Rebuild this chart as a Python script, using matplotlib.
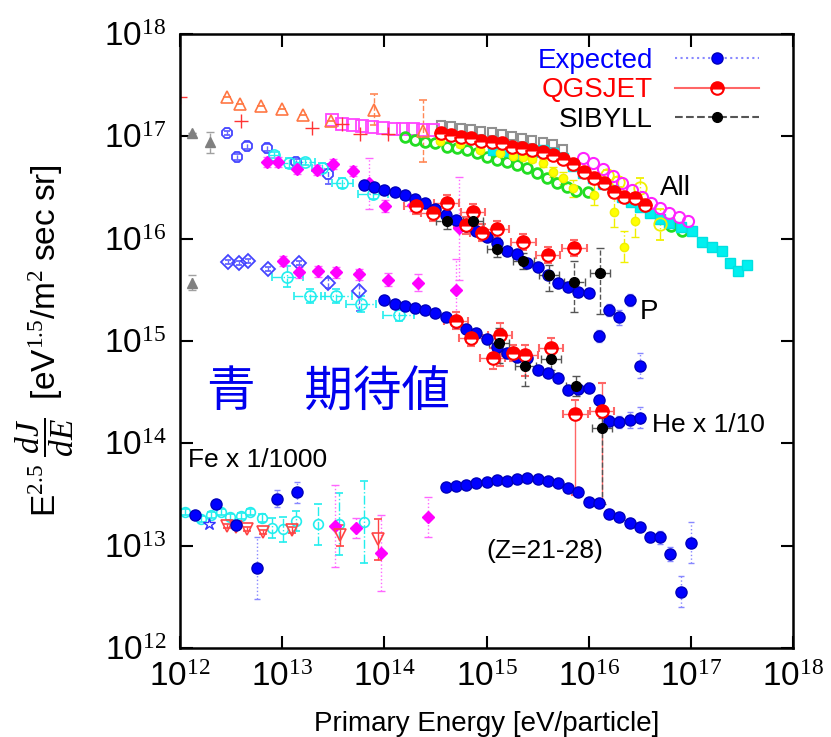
import numpy as np
import matplotlib
matplotlib.use("Agg")
import matplotlib.pyplot as plt
from matplotlib.lines import Line2D

plt.rcParams['font.family'] = ['Liberation Sans', 'DejaVu Sans']
plt.rcParams['mathtext.fontset'] = 'custom'
plt.rcParams['mathtext.rm'] = 'Liberation Serif'
plt.rcParams['mathtext.it'] = 'Liberation Serif:italic'
plt.rcParams['mathtext.sf'] = 'Liberation Sans'

# all values are log10(E [eV]) and log10(E^2.5 dJ/dE)
tick_exp = [12, 13, 14, 15, 16, 17, 18]

# expected values (blue)
exp_p_lgE = [13.8, 13.9, 14.0, 14.1, 14.2, 14.3, 14.4, 14.5, 14.6, 14.7, 14.8, 14.9, 15.0, 15.1,
             15.2, 15.3, 15.4, 15.5, 15.6, 15.7, 15.8, 15.9, 16.0, 16.1, 16.2, 16.3, 16.4]
exp_p_lgF = [16.52, 16.50, 16.48, 16.46, 16.43, 16.39, 16.35, 16.29, 16.23, 16.18, 16.12, 16.07, 16.02, 15.96,
             15.88, 15.85, 15.76, 15.72, 15.64, 15.57, 15.53, 15.48, 15.47, 15.05, 15.30, 15.23, 15.40]
exp_p_err = [0.02] * 23 + [0.06, 0.06, 0.07, 0.06]

exp_he_lgE = [14.0, 14.1, 14.2, 14.3, 14.4, 14.5, 14.6, 14.7, 14.8, 14.9, 15.0, 15.1, 15.2, 15.3,
              15.4, 15.5, 15.6, 15.7, 15.8, 15.9, 16.0, 16.1, 16.2, 16.3, 16.4, 16.5, 16.5]
exp_he_lgF = [15.40, 15.36, 15.34, 15.32, 15.30, 15.27, 15.23, 15.19, 15.12, 15.08, 15.02, 14.94, 14.88, 14.84,
              14.83, 14.72, 14.69, 14.64, 14.52, 14.53, 14.54, 14.42, 14.22, 14.21, 14.23, 14.25, 14.76]
exp_he_err = [0.02] * 21 + [0.05, 0.05, 0.06, 0.08, 0.1, 0.12]

exp_fe_lgE = [14.6, 14.7, 14.8, 14.9, 15.0, 15.1, 15.2, 15.3, 15.4, 15.5, 15.6, 15.7, 15.8,
              15.9, 16.0, 16.1, 16.2, 16.3, 16.4, 16.5, 16.6, 16.7, 16.8, 16.9, 17.0]
exp_fe_lgF = [13.57, 13.58, 13.59, 13.61, 13.62, 13.64, 13.63, 13.65, 13.66, 13.65, 13.63, 13.61, 13.56,
              13.52, 13.43, 13.42, 13.31, 13.28, 13.22, 13.18, 13.08, 13.08, 12.92, 12.55, 13.03]
exp_fe_err = [0.02] * 20 + [0.04, 0.06, 0.07, 0.15, 0.2]

low_fe_lgE = [12.15, 12.35, 12.55, 12.75, 12.95, 13.15]
low_fe_lgF = [13.30, 13.41, 13.20, 12.78, 13.46, 13.52]
low_fe_err = [0.03, 0.04, 0.04, 0.3, 0.08, 0.1]

# QGSJET (red)
q_all_lgE = [14.55, 14.65, 14.75, 14.85, 14.95, 15.05, 15.15, 15.25, 15.35, 15.45, 15.55,
             15.65, 15.75, 15.85, 15.95, 16.05, 16.15, 16.25, 16.35, 16.45, 16.55]
q_all_lgF = [17.03, 17.01, 16.99, 16.98, 16.95, 16.94, 16.93, 16.90, 16.89, 16.87, 16.85,
             16.82, 16.78, 16.73, 16.65, 16.59, 16.54, 16.46, 16.41, 16.40, 16.33]
q_p_lgE = [14.31, 14.48, 14.61, 14.80, 14.87, 14.96, 15.10, 15.36, 15.60, 15.86]
q_p_lgF = [16.32, 16.25, 16.35, 16.13, 16.26, 16.06, 16.09, 15.97, 15.84, 15.91]
q_he_lgE = [14.70, 14.85, 15.06, 15.13, 15.26, 15.38, 15.63, 15.87, 16.13]
q_he_lgF = [15.20, 15.03, 14.83, 15.06, 14.88, 14.86, 14.93, 14.29, 14.32]
q_he_lo = [0.08, 0.08, 0.1, 0.3, 0.08, 0.2, 0.08, 0.8, 0.9]
q_he_hi = [0.08, 0.08, 0.1, 0.12, 0.08, 0.1, 0.1, 0.13, 0.27]

# SIBYLL (black)
s_p_lgE = [14.61, 14.87, 15.10, 15.36, 15.61, 15.86, 16.11]
s_p_lgF = [16.17, 16.17, 15.90, 15.78, 15.64, 15.58, 15.66]
s_p_lo = [0.08, 0.08, 0.08, 0.08, 0.15, 0.3, 0.4]
s_p_hi = [0.08, 0.08, 0.08, 0.08, 0.1, 0.2, 0.25]
s_he_lgE = [15.12, 15.38, 15.63, 15.88, 16.13]
s_he_lgF = [14.98, 14.76, 14.82, 14.56, 14.15]
s_he_lo = [0.2, 0.2, 0.1, 0.1, 0.74]
s_he_hi = [0.15, 0.15, 0.1, 0.1, 0.1]

# other experiments, all-particle
gray_lgE = [14.55, 14.65, 14.75, 14.85, 14.95, 15.05, 15.15, 15.25, 15.35, 15.45, 15.55, 15.65, 15.75]
gray_lgF = [17.11, 17.10, 17.08, 17.07, 17.05, 17.04, 17.02, 17.00, 16.98, 16.96, 16.94, 16.92, 16.88]
msq_lgE = [13.49, 13.59, 13.69, 13.78, 13.88, 13.99, 14.09, 14.18, 14.28, 14.38, 14.48]
msq_lgF = [17.16, 17.12, 17.11, 17.10, 17.09, 17.08, 17.07, 17.07, 17.07, 17.06, 17.06]
mci_lgE = [15.94, 16.04, 16.14, 16.24, 16.33, 16.42, 16.52, 16.61, 16.70, 16.79, 16.88, 16.97]
mci_lgF = [16.79, 16.74, 16.68, 16.61, 16.54, 16.48, 16.41, 16.35, 16.30, 16.25, 16.21, 16.17]
cyan_lgE = [15.06, 15.16, 15.26, 15.36, 15.45, 15.55, 15.65, 15.75, 15.85, 15.94, 16.04, 16.14, 16.24, 16.33,
            16.41, 16.50, 16.60, 16.70, 16.79, 16.90, 17.01, 17.11, 17.21, 17.30, 17.38, 17.46, 17.55]
cyan_lgF = [16.87, 16.86, 16.85, 16.84, 16.85, 16.87, 16.84, 16.79, 16.71, 16.64, 16.59, 16.53, 16.48, 16.41,
            16.36, 16.31, 16.25, 16.19, 16.15, 16.11, 16.07, 15.97, 15.92, 15.88, 15.76, 15.68, 15.74]
green_lgE = [14.20, 14.30, 14.40, 14.50, 14.61, 14.71, 14.81, 14.91, 15.00, 15.10, 15.20, 15.30, 15.40,
             15.49, 15.59, 15.69, 15.79, 15.88, 15.99, 16.81, 16.91]
green_lgF = [16.99, 16.96, 16.94, 16.93, 16.90, 16.89, 16.87, 16.84, 16.80, 16.77, 16.75, 16.72, 16.69,
             16.64, 16.59, 16.54, 16.50, 16.47, 16.46, 16.12, 16.07]
yel_lgE = [14.54, 14.74, 14.94, 15.13, 15.26, 15.36, 15.45, 15.55, 15.65, 15.75, 15.85, 16.05, 16.25, 16.35, 16.45]
yel_lgF = [16.95, 16.92, 16.87, 16.84, 16.81, 16.80, 16.78, 16.74, 16.65, 16.59, 16.49, 16.43, 16.26, 15.92, 16.17]
yel_err = [0.02, 0.02, 0.02, 0.02, 0.02, 0.02, 0.03, 0.04, 0.05, 0.06, 0.08, 0.1, 0.15, 0.15, 0.15]
yopen_lgE = [16.18, 16.29, 16.50, 16.70]
yopen_lgF = [16.62, 16.55, 16.49, 16.14]
tri_lgE = [12.46, 12.59, 12.79, 13.00, 13.20, 13.48, 13.90, 14.38]
tri_lgF = [17.38, 17.32, 17.30, 17.27, 17.21, 17.15, 17.26, 17.05]
tri_err = [0.0, 0.0, 0.0, 0.0, 0.0, 0.0, 0.15, 0.3]
plus_lgE = [12.00, 12.60, 13.29, 13.59, 13.76, 14.04]
plus_lgF = [17.38, 17.15, 17.08, 17.12, 17.02, 17.02]
gtri_lgE = [12.12, 12.29, 12.12]
gtri_lgF = [17.03, 16.94, 15.57]
gtri_err = [0.0, 0.1, 0.07]

# other experiments, P / He / Fe bands
bop_lgE = [12.46, 12.56, 12.66, 12.85, 13.14, 13.45]
bop_lgF = [17.03, 16.80, 16.91, 16.89, 16.75, 16.63]
bdh_lgE = [12.47, 12.58, 12.67, 12.86, 13.16, 13.45, 13.75]
bdh_lgF = [15.77, 15.76, 15.78, 15.70, 15.76, 15.57, 15.49]
magp_lgE = [12.85, 12.96, 13.15, 13.34, 13.50, 13.69, 13.85, 14.01, 14.28, 14.73]
magp_lgF = [16.75, 16.75, 16.68, 16.67, 16.73, 16.66, 16.54, 16.32, 16.33, 16.10]
magp_err = [0.05, 0.05, 0.05, 0.05, 0.05, 0.05, 0.25, 0.06, 0.06, 0.5]
maghe_lgE = [13.01, 13.16, 13.35, 13.53, 13.75, 14.04, 14.33, 14.70]
maghe_lgF = [15.78, 15.67, 15.68, 15.67, 15.65, 15.60, 15.57, 15.50]
maghe_err = [0.05, 0.05, 0.05, 0.05, 0.05, 0.06, 0.08, 0.3]
magfe_lgE = [13.52, 13.72, 13.97, 14.43]
magfe_lgF = [13.19, 13.17, 12.93, 13.28]
magfe_err = [0.4, 0.1, 0.37, 0.2]
cyp_lgE = [12.92, 13.07, 13.22, 13.39, 13.59, 13.89]
cyp_lgF = [16.82, 16.74, 16.75, 16.69, 16.54, 16.44]
cyhe_lgE = [13.05, 13.27, 13.53, 13.77, 14.14]
cyhe_lgF = [15.63, 15.44, 15.44, 15.36, 15.25]
cyfe_lgE = [12.05, 12.21, 12.30, 12.40, 12.49, 12.60, 12.69, 12.80, 12.90, 13.01, 13.14, 13.35, 13.56, 13.80]
cyfe_lgF = [13.33, 13.26, 13.30, 13.33, 13.28, 13.29, 13.33, 13.27, 13.17, 13.16, 13.24, 13.21, 13.21, 13.23]
cyfe_err = [0.03, 0.03, 0.03, 0.03, 0.03, 0.03, 0.03, 0.04, 0.1, 0.12, 0.1, 0.2, 0.3, 0.4]
rtri_lgE = [12.46, 12.55, 12.66, 12.81, 13.10, 13.57, 13.94]
rtri_lgF = [13.19, 13.18, 13.16, 13.13, 13.15, 13.10, 13.06]
rtri_err = [0.02, 0.02, 0.02, 0.02, 0.03, 0.1, 0.2]
star_lgE = [12.28]
star_lgF = [13.21]


def draw(ax, lgE, lgF, lo=None, hi=None, xe=None, els='-', ecolor=None, cap=2, **kw):
    lgE = np.array(lgE)
    lgF = np.array(lgF)
    E = 10 ** lgE
    F = 10 ** lgF
    yerr = None
    xerr = None
    if lo is not None:
        if hi is None:
            hi = lo
        yerr = [F - 10 ** (lgF - np.array(lo)), 10 ** (lgF + np.array(hi)) - F]
    if xe is not None:
        xerr = [E - 10 ** (lgE - np.array(xe)), 10 ** (lgE + np.array(xe)) - E]
    eb = ax.errorbar(E, F, yerr=yerr, xerr=xerr, ls='none', ecolor=ecolor,
                     elinewidth=1, capsize=cap, capthick=1, **kw)
    for c in eb[2]:
        c.set_linestyle(els)
    return eb


fig = plt.figure(figsize=(8.31, 7.37), dpi=100)
ax = fig.add_axes([0.2166, 0.1208, 0.7377, 0.8331])
ax.set_xscale('log')
ax.set_yscale('log')
ax.set_xlim(1e12, 1e18)
ax.set_ylim(1e12, 1e18)

# other experiments
draw(ax, gray_lgE, gray_lgF, marker='s', ms=6, mfc='none', mec='#909090', mew=1.5)
draw(ax, msq_lgE, msq_lgF, marker='s', ms=8, mfc='none', mec='#ff44ff', mew=1.3)
draw(ax, green_lgE, green_lgF, marker='o', ms=7, mfc='none', mec='#22dd22', mew=2)
draw(ax, cyan_lgE, cyan_lgF, marker='s', ms=7, color='#00f0f0', mec='#00e0e0')
draw(ax, yel_lgE, yel_lgF, yel_err, marker='o', ms=6, color='#ffff00', mec='#f0f000',
     ecolor='#f0f000', els='-.', cap=3)
draw(ax, yopen_lgE, yopen_lgF, [0.05, 0.05, 0.1, 0.15], marker='o', ms=9, mfc='none', mec='#f0f000',
     mew=1.3, ecolor='#f0f000', els='-.', cap=3)
draw(ax, mci_lgE, mci_lgF, marker='o', ms=8, mfc='none', mec='#ff22ff', mew=1.5)
draw(ax, tri_lgE, tri_lgF, tri_err, marker='^', ms=8, mfc='none', mec='#ff7744', mew=1.2,
     ecolor='#ff8855', els='--', cap=3)
draw(ax, plus_lgE, plus_lgF, marker='+', ms=10, color='#ff3333', mew=1)
draw(ax, gtri_lgE, gtri_lgF, gtri_err, marker='^', ms=7, color='#808080', ecolor='#a0a0a0',
     els='--', cap=3)
draw(ax, bop_lgE, bop_lgF, [0.02, 0.03, 0.03, 0.03, 0.03, 0.1], marker='8', ms=8, mfc='none',
     mec='#4444ff', mew=1.3, ecolor='#6666ff', els='--', cap=2)
draw(ax, bdh_lgE, bdh_lgF, [0.02, 0.02, 0.02, 0.02, 0.02, 0.05, 0.2], marker='D', ms=7, mfc='none',
     mec='#4444ff', mew=1.3, ecolor='#6666ff', els='--', cap=2)
draw(ax, cyp_lgE, cyp_lgF, [0.03, 0.05, 0.03, 0.05, 0.05, 0.05], [0.03, 0.05, 0.03, 0.05, 0.05, 0.05],
     [0.05, 0.1, 0.1, 0.1, 0.1, 0.15], marker='o', ms=8, mfc='none', mec='#22eeee', mew=1.2,
     ecolor='#22eeee', els='-.', cap=3)
draw(ax, cyhe_lgE, cyhe_lgF, [0.1, 0.07, 0.07, 0.08, 0.05], [0.1, 0.07, 0.07, 0.08, 0.05],
     [0.15, 0.15, 0.15, 0.15, 0.15], marker='o', ms=8, mfc='none', mec='#22eeee', mew=1.2,
     ecolor='#22eeee', els='-.', cap=3)
draw(ax, cyfe_lgE, cyfe_lgF, cyfe_err, marker='o', ms=7, mfc='none', mec='#22eeee', mew=1.2,
     ecolor='#22eeee', els='-.', cap=3)
draw(ax, magp_lgE, magp_lgF, magp_err, marker='D', ms=6, color='#ff00ff', ecolor='#ff66ff', els=':', cap=3)
draw(ax, maghe_lgE, maghe_lgF, maghe_err, marker='D', ms=6, color='#ff00ff', ecolor='#ff66ff', els=':', cap=3)
draw(ax, magfe_lgE, magfe_lgF, magfe_err, marker='D', ms=6, color='#ff00ff', ecolor='#ff66ff', els=':', cap=3)
draw(ax, rtri_lgE, rtri_lgF, rtri_err, marker='v', ms=8, mfc='none', mec='#ff4444', mew=1.2,
     ecolor='#ff4444', cap=3)
draw(ax, star_lgE, star_lgF, marker='*', ms=9, mfc='none', mec='#3333ff', mew=1)

# expected (blue)
blue = dict(marker='o', ms=8, color='#0000ff', mec='#0000bb', ecolor='#8888ff', els=':', cap=2)
draw(ax, exp_p_lgE, exp_p_lgF, exp_p_err, **blue)
draw(ax, exp_he_lgE, exp_he_lgF, exp_he_err, **blue)
draw(ax, exp_fe_lgE, exp_fe_lgF, exp_fe_err, **blue)
draw(ax, low_fe_lgE, low_fe_lgF, low_fe_err, **blue)

# QGSJET (red) and SIBYLL (black)
red = dict(marker='o', ms=9, mfc='#ff0000', mfcalt='white', fillstyle='top', mec='#ff0000',
           mew=1.5, ecolor='#ff6666', cap=3)
draw(ax, q_all_lgE, q_all_lgF, **red)
draw(ax, q_p_lgE, q_p_lgF, [0.08] * 10, [0.08] * 10, [0.12] * 10, **red)
draw(ax, q_he_lgE, q_he_lgF, q_he_lo, q_he_hi, [0.12] * 9, **red)
black = dict(marker='o', ms=7, color='black', ecolor='#555555', els='--', cap=3)
draw(ax, s_p_lgE, s_p_lgF, s_p_lo, s_p_hi, [0.1] * 7, **black)
draw(ax, s_he_lgE, s_he_lgF, s_he_lo, s_he_hi, [0.1] * 5, **black)

# axes
ticks = [10.0 ** k for k in tick_exp]
labels = [r'$\mathsf{10}^{\mathrm{%d}}$' % k for k in tick_exp]
ax.set_xticks(ticks)
ax.set_xticklabels(labels)
ax.set_yticks(ticks)
ax.set_yticklabels(labels)
ax.minorticks_off()
ax.tick_params(which='major', direction='in', length=9, width=1.5, top=True, right=True,
               labelsize=24, pad=10)
for s in ax.spines.values():
    s.set_linewidth(1.8)
ax.set_xlabel('Primary Energy [eV/particle]', fontsize=20, labelpad=13)
ax.set_ylabel(r'$\mathsf{E}^{2.5}\ \dfrac{dJ}{dE}\ \ \mathsf{[eV}^{1.5}\mathsf{/m}^{2}\ \mathsf{sec\ sr]}$',
              fontsize=24, labelpad=20)

# labels in the plot
ax.text(10 ** 16.70, 10 ** 16.49, 'All', fontsize=20, va='center')
ax.text(10 ** 16.50, 10 ** 15.28, 'P', fontsize=20, va='center')
ax.text(10 ** 16.62, 10 ** 14.18, 'He x 1/10', fontsize=19, va='center')
ax.text(10 ** 12.08, 10 ** 13.84, 'Fe x 1/1000', fontsize=19, va='center')
ax.text(10 ** 15.00, 10 ** 12.95, '(Z=21-28)', fontsize=19, va='center')
ax.text(10 ** 12.26, 10 ** 14.49, '青\u3000期待値', fontsize=35, color='#0000ee',
        family=['Noto Sans CJK JP', 'DejaVu Sans'], va='center')

handles = [
    Line2D([], [], color='#8888ff', ls=':', marker='o', ms=8, mfc='#0000ff', mec='#0000bb'),
    Line2D([], [], color='#ff6666', ls='-', marker='o', ms=9, mfc='#ff0000', mfcalt='white',
           fillstyle='top', mec='#ff0000', mew=1.5),
    Line2D([], [], color='#555555', ls='--', marker='o', ms=7, mfc='black', mec='black'),
]
ax.legend(handles, ['Expected', 'QGSJET', 'SIBYLL'], loc='upper right', bbox_to_anchor=(0.962, 0.995),
          markerfirst=False, frameon=False, fontsize=20, handlelength=3.0, handletextpad=0.8,
          labelspacing=0.12, borderaxespad=0, numpoints=1,
          labelcolor=['#0000ff', '#ff0000', 'black'])

fig.savefig('out.png', dpi=100)
